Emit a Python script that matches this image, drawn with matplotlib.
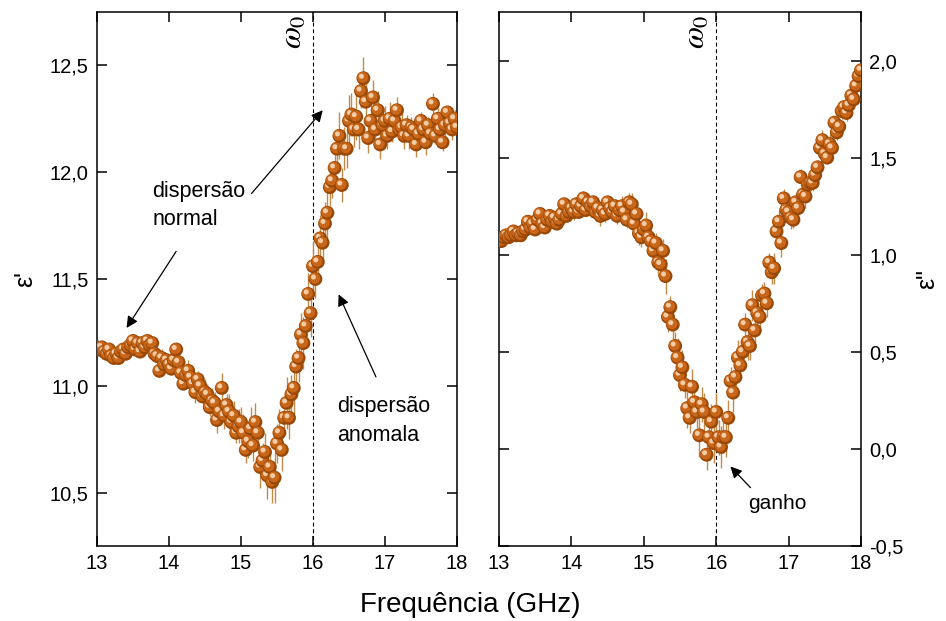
import numpy as np
import matplotlib
matplotlib.use("Agg")
import matplotlib.pyplot as plt
from matplotlib.ticker import FuncFormatter, MultipleLocator
from matplotlib import transforms

plt.rcParams['font.family'] = ['Liberation Sans', 'DejaVu Sans']
plt.rcParams['mathtext.fontset'] = 'stix'

#######################################
#  DATA  ##############################
#######################################

# frequency grid (GHz), 151 samples between 13 and 18
freq = np.linspace(13, 18, 151)

# real part  eps'
eps_real = np.array([
	11.18, 11.17, 11.18, 11.16, 11.15, 11.17, 11.14, 11.13, 11.15, 11.13,
	11.16, 11.17, 11.15, 11.18, 11.19, 11.21, 11.17, 11.20, 11.16, 11.20,
	11.18, 11.21, 11.19, 11.20, 11.15, 11.14, 11.07, 11.13, 11.10, 11.12,
	11.10, 11.08, 11.12, 11.17, 11.11, 11.06, 11.01, 11.05, 11.07, 11.04,
	11.01, 10.97, 11.03, 11.00, 10.95, 10.97, 10.96, 10.90, 10.93, 10.92,
	10.84, 10.88, 10.99, 10.86, 10.91, 10.88, 10.83, 10.86, 10.78, 10.81,
	10.83, 10.78, 10.70, 10.74, 10.80, 10.72, 10.83, 10.78, 10.62, 10.65,
	10.69, 10.58, 10.62, 10.55, 10.57, 10.73, 10.78, 10.70, 10.85, 10.92,
	10.85, 10.96, 10.99, 11.09, 11.13, 11.24, 11.20, 11.28, 11.43, 11.34,
	11.56, 11.50, 11.58, 11.69, 11.67, 11.76, 11.81, 11.93, 11.96, 12.02,
	12.11, 12.17, 11.94, 12.11, 12.11, 12.24, 12.27, 12.20, 12.26, 12.20,
	12.38, 12.44, 12.33, 12.16, 12.24, 12.35, 12.20, 12.29, 12.13, 12.22,
	12.24, 12.17, 12.25, 12.19, 12.24, 12.29, 12.20, 12.21, 12.17, 12.22,
	12.17, 12.21, 12.20, 12.13, 12.18, 12.24, 12.20, 12.14, 12.22, 12.18,
	12.32, 12.17, 12.25, 12.20, 12.14, 12.22, 12.28, 12.23, 12.20, 12.25,
	12.21])

eps_real_err = np.array([
	.02, .02, .03, .02, .02, .03, .02, .02, .03, .02,
	.03, .02, .02, .03, .02, .03, .02, .03, .02, .03,
	.03, .02, .03, .02, .04, .03, .03, .04, .03, .03,
	.04, .03, .04, .03, .05, .04, .03, .04, .05, .04,
	.04, .05, .04, .05, .04, .06, .05, .04, .06, .05,
	.06, .05, .07, .06, .05, .08, .06, .07, .05, .08,
	.07, .09, .06, .08, .10, .07, .09, .06, .10, .08,
	.09, .11, .08, .10, .12, .09, .11, .10, .08, .12,
	.10, .09, .12, .08, .11, .10, .12, .09, .10, .11,
	.12, .09, .10, .11, .08, .10, .12, .09, .08, .10,
	.09, .11, .08, .10, .09, .12, .10, .08, .11, .09,
	.08, .10, .09, .07, .10, .08, .06, .09, .07, .08,
	.07, .06, .08, .05, .07, .06, .05, .07, .06, .05,
	.06, .05, .04, .06, .05, .04, .05, .06, .04, .05,
	.05, .04, .05, .03, .04, .05, .03, .04, .05, .04,
	.04])

# imaginary part  eps''
eps_imag = np.array([
	1.08, 1.07, 1.09, 1.10, 1.09, 1.10, 1.12, 1.10, 1.11, 1.10,
	1.12, 1.13, 1.17, 1.14, 1.16, 1.13, 1.18, 1.21, 1.16, 1.14,
	1.18, 1.20, 1.17, 1.19, 1.16, 1.18, 1.21, 1.26, 1.20, 1.22,
	1.24, 1.22, 1.26, 1.22, 1.25, 1.29, 1.23, 1.27, 1.25, 1.27,
	1.22, 1.24, 1.20, 1.23, 1.21, 1.27, 1.24, 1.22, 1.25, 1.20,
	1.23, 1.25, 1.22, 1.18, 1.27, 1.26, 1.16, 1.21, 1.11, 1.09,
	1.13, 1.15, 1.09, 1.07, 1.02, 1.06, 0.96, 0.95, 1.02, 0.89,
	0.68, 0.73, 0.64, 0.53, 0.47, 0.38, 0.42, 0.33, 0.21, 0.16,
	0.32, 0.24, 0.19, 0.07, 0.23, 0.19, -0.03, 0.06, 0.14, 0.03,
	0.19, 0.06, 0.01, 0.06, 0.06, 0.16, 0.35, 0.29, 0.37, 0.47,
	0.43, 0.50, 0.64, 0.55, 0.53, 0.74, 0.61, 0.70, 0.68, 0.79,
	0.80, 0.75, 0.96, 0.91, 0.93, 1.12, 1.17, 1.06, 1.29, 1.23,
	1.22, 1.19, 1.18, 1.27, 1.24, 1.40, 1.31, 1.30, 1.36, 1.37,
	1.37, 1.41, 1.45, 1.55, 1.59, 1.52, 1.50, 1.57, 1.55, 1.68,
	1.63, 1.66, 1.74, 1.76, 1.73, 1.77, 1.82, 1.80, 1.87, 1.92,
	1.95])

eps_imag_err = np.array([
	.02, .02, .03, .02, .02, .02, .03, .02, .02, .03,
	.02, .03, .02, .02, .03, .02, .03, .02, .02, .03,
	.03, .02, .03, .02, .03, .03, .02, .03, .03, .02,
	.03, .04, .03, .03, .02, .04, .03, .05, .03, .04,
	.03, .04, .05, .03, .04, .03, .05, .04, .03, .04,
	.04, .05, .03, .04, .05, .06, .05, .07, .06, .05,
	.06, .07, .09, .06, .08, .05, .07, .08, .06, .09,
	.08, .06, .09, .07, .10, .08, .09, .07, .10, .08,
	.09, .10, .08, .11, .09, .10, .08, .12, .09, .10,
	.10, .09, .11, .08, .10, .09, .07, .10, .08, .09,
	.07, .08, .06, .09, .07, .08, .06, .07, .08, .06,
	.06, .07, .05, .06, .08, .05, .06, .07, .05, .06,
	.05, .06, .04, .05, .06, .04, .05, .06, .04, .05,
	.04, .05, .04, .03, .05, .04, .03, .05, .04, .03,
	.04, .03, .04, .03, .04, .03, .04, .03, .03, .04,
	.03])

OMEGA0 = 16.0
x_ticks = [13, 14, 15, 16, 17, 18]

#######################################
#  STYLE  #############################
#######################################
ball_dark = '#9a4806'
ball_mid = '#c8661a'
ball_light = '#f4cda6'
err_color = '#c08a48'
msize = 100

comma = FuncFormatter(lambda v, p: ('%.1f' % v).replace('.', ','))

W, H = 946., 621.
fig = plt.figure(figsize=(9.46, 6.21), dpi=100)
ax1 = fig.add_axes([97/W, 1-546/H, (457-97)/W, (546-12)/H])
ax2 = fig.add_axes([499/W, 1-546/H, (861-499)/W, (546-12)/H])


def draw_balls(ax, x, y, yerr):
	ax.errorbar(x, y, yerr=yerr, fmt='none', ecolor=err_color, elinewidth=1.0, capsize=0, zorder=2)
	mid = transforms.offset_copy(ax.transData, fig=fig, x=-0.8, y=0.8, units='dots')
	hl = transforms.offset_copy(ax.transData, fig=fig, x=-2.0, y=2.0, units='dots')
	#one ball at a time so that overlapping balls keep their shading
	for i in range(len(x)):
		ax.scatter([x[i]], [y[i]], s=msize, color=ball_dark, edgecolors='none', zorder=3)
		ax.scatter([x[i]], [y[i]], s=msize*0.62, color=ball_mid, edgecolors='none', transform=mid, zorder=3)
		ax.scatter([x[i]], [y[i]], s=msize*0.13, color=ball_light, edgecolors='none', transform=hl, zorder=3)


def style_axes(ax):
	ax.set_xlim(13, 18)
	ax.set_xticks(x_ticks)
	ax.yaxis.set_major_locator(MultipleLocator(0.5))
	ax.yaxis.set_major_formatter(comma)
	ax.tick_params(direction='in', length=7, width=1.1, top=True, right=True, labelsize=14.5, pad=6)
	for s in ax.spines.values():
		s.set_linewidth(1.1)
	ax.axvline(OMEGA0, color='black', lw=0.8, ls=(0, (3.5, 2.5)), zorder=1)


#######################################
#  LEFT: eps'  ########################
#######################################
draw_balls(ax1, freq, eps_real, eps_real_err)
style_axes(ax1)
ax1.set_ylim(10.25, 12.75)
ax1.set_ylabel("ε'", fontsize=18, labelpad=9)
ax1.text(OMEGA0 - 0.06, 12.74, r'$\omega_0$', rotation=90, ha='right', va='top', fontsize=23)

ax1.text(13.77, 11.73, 'dispersão\nnormal', fontsize=15.5, ha='left', va='bottom', linespacing=1.45)
ax1.annotate('', xy=(13.39, 11.26), xytext=(14.12, 11.64),
	arrowprops=dict(arrowstyle='-|>', color='black', lw=0.9, mutation_scale=17))
ax1.annotate('', xy=(16.16, 12.30), xytext=(15.12, 11.89),
	arrowprops=dict(arrowstyle='-|>', color='black', lw=0.9, mutation_scale=17))

ax1.text(16.33, 10.72, 'dispersão\nanomala', fontsize=15.5, ha='left', va='bottom', linespacing=1.45)
ax1.annotate('', xy=(16.34, 11.44), xytext=(16.89, 11.03),
	arrowprops=dict(arrowstyle='-|>', color='black', lw=0.9, mutation_scale=17))

#######################################
#  RIGHT: eps''  ######################
#######################################
draw_balls(ax2, freq, eps_imag, eps_imag_err)
style_axes(ax2)
ax2.set_ylim(-0.5, 2.25)
ax2.tick_params(labelleft=False, labelright=True)
ax2.yaxis.set_label_position('right')
ax2.set_ylabel('ε"', fontsize=18, labelpad=8)
ax2.text(OMEGA0 - 0.06, 2.24, r'$\omega_0$', rotation=90, ha='right', va='top', fontsize=23)

ax2.text(16.44, -0.33, 'ganho', fontsize=15, ha='left', va='bottom')
ax2.annotate('', xy=(16.17, -0.08), xytext=(16.5, -0.21),
	arrowprops=dict(arrowstyle='-|>', color='black', lw=0.9, mutation_scale=17))

fig.text(0.497, 0.026, 'Frequência (GHz)', ha='center', va='center', fontsize=20)

fig.savefig('out.png', dpi=100)
